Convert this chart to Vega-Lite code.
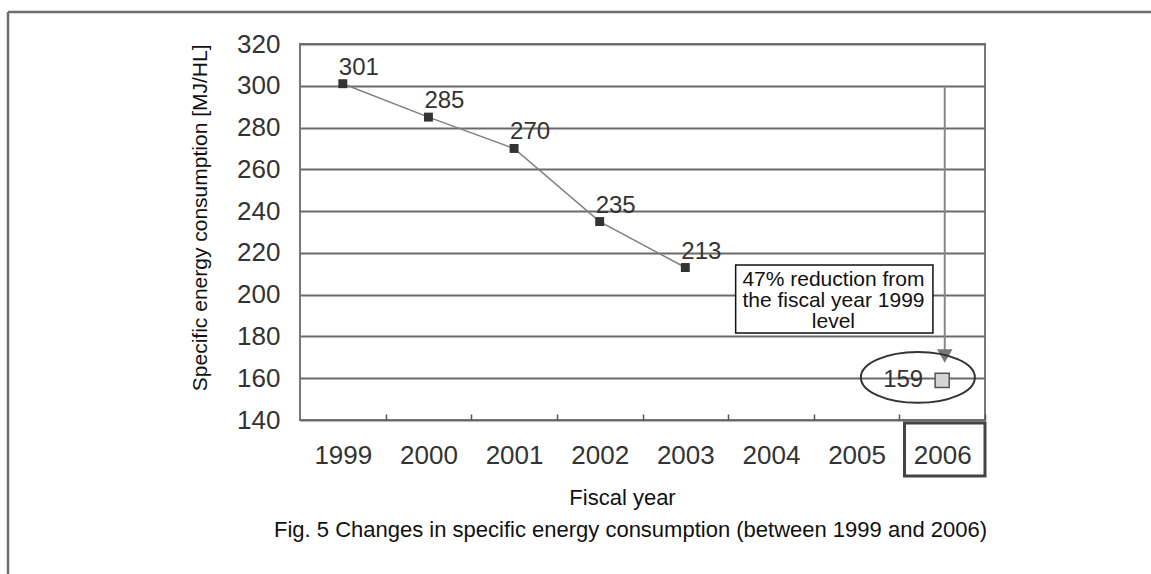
{
  "$schema": "https://vega.github.io/schema/vega-lite/v6.json",
  "width": 685,
  "height": 376,
  "autosize": "none",
  "padding": {"left": 300, "top": 44, "right": 166, "bottom": 154},
  "background": "white",
  "title": {
    "text": "Fig. 5 Changes in specific energy consumption (between 1999 and 2006)",
    "orient": "bottom",
    "anchor": "middle",
    "fontSize": 22,
    "fontWeight": "normal",
    "color": "#111111",
    "font": "Liberation Sans",
    "offset": -55,
    "dx": -12
  },
  "config": {
    "font": "Liberation Sans",
    "view": {"stroke": "#777777", "strokeWidth": 2}
  },
  "data": {
    "values": [
      {"year": 1999, "value": 301, "kind": "actual"},
      {"year": 2000, "value": 285, "kind": "actual"},
      {"year": 2001, "value": 270, "kind": "actual"},
      {"year": 2002, "value": 235, "kind": "actual"},
      {"year": 2003, "value": 213, "kind": "actual"},
      {"year": 2006, "value": 159, "kind": "target"}
    ]
  },
  "layer": [
    {
      "transform": [{"filter": "datum.kind == 'actual'"}],
      "mark": {"type": "line", "color": "#808080", "strokeWidth": 1.5},
      "encoding": {
        "x": {
          "field": "year",
          "type": "quantitative",
          "scale": {"domain": [1998.5, 2006.5], "nice": false, "zero": false},
          "axis": {
            "values": [1999.5, 2000.5, 2001.5, 2002.5, 2003.5, 2004.5, 2005.5, 2006.5],
            "labelExpr": "toString(floor(datum.value))",
            "labelOffset": -42.8,
            "labelFontSize": 26,
            "labelColor": "#333333",
            "labelPadding": 28,
            "labelFlush": false,
            "labelOverlap": false,
            "tickSize": -6,
            "tickColor": "#555555",
            "tickWidth": 1.5,
            "domain": false,
            "grid": false,
            "title": "Fiscal year",
            "titleFontSize": 22,
            "titleFontWeight": "normal",
            "titleColor": "#111111",
            "titlePadding": 19,
            "titleX": 322,
            "titleAlign": "center"
          }
        },
        "y": {
          "field": "value",
          "type": "quantitative",
          "scale": {"domain": [140, 320], "nice": false, "zero": false},
          "axis": {
            "values": [140, 160, 180, 200, 220, 240, 260, 280, 300, 320],
            "labelFontSize": 26,
            "labelColor": "#333333",
            "labelPadding": 20,
            "ticks": false,
            "domain": false,
            "grid": true,
            "gridColor": "#6a6a6a",
            "gridWidth": 2,
            "title": "Specific energy consumption [MJ/HL]",
            "titleFontSize": 21,
            "titleFontWeight": "normal",
            "titleColor": "#111111",
            "titlePadding": 26,
            "titleAnchor": "end"
          }
        }
      }
    },
    {
      "transform": [{"filter": "datum.kind == 'actual'"}],
      "mark": {"type": "point", "shape": "square", "filled": true, "color": "#333333", "size": 80, "opacity": 1},
      "encoding": {
        "x": {"field": "year", "type": "quantitative"},
        "y": {"field": "value", "type": "quantitative"}
      }
    },
    {
      "transform": [{"filter": "datum.kind == 'actual'"}],
      "mark": {"type": "text", "fontSize": 24, "color": "#333333", "dx": 16, "dy": -9, "baseline": "alphabetic", "align": "center"},
      "encoding": {
        "x": {"field": "year", "type": "quantitative"},
        "y": {"field": "value", "type": "quantitative"},
        "text": {"field": "value", "type": "quantitative"}
      }
    },
    {
      "data": {"values": [{}]},
      "mark": {"type": "rule", "color": "#6e6e6e", "strokeWidth": 2.5},
      "encoding": {
        "x": {"datum": 1995.09, "type": "quantitative"},
        "x2": {"datum": 2010},
        "y": {"datum": 335.3, "type": "quantitative"}
      }
    },
    {
      "data": {"values": [{}]},
      "mark": {"type": "rule", "color": "#6e6e6e", "strokeWidth": 2.5},
      "encoding": {
        "x": {"datum": 1995.09, "type": "quantitative"},
        "y": {"datum": 335.3, "type": "quantitative"},
        "y2": {"datum": 66.3}
      }
    },
    {
      "data": {"values": [{}]},
      "mark": {"type": "rule", "color": "#888888", "strokeWidth": 2},
      "encoding": {
        "x": {"datum": 2006.03, "type": "quantitative"},
        "y": {"datum": 300, "type": "quantitative"},
        "y2": {"datum": 172}
      }
    },
    {
      "data": {"values": [{}]},
      "mark": {"type": "point", "shape": "triangle-down", "filled": true, "color": "#777777", "size": 240, "opacity": 1},
      "encoding": {
        "x": {"datum": 2006.03, "type": "quantitative"},
        "y": {"datum": 170.6, "type": "quantitative"}
      }
    },
    {
      "transform": [{"filter": "datum.kind == 'target'"}],
      "mark": {"type": "point", "shape": "square", "filled": true, "fill": "#d4d4d4", "stroke": "#555555", "strokeWidth": 1.5, "size": 200, "opacity": 1},
      "encoding": {
        "x": {"field": "year", "type": "quantitative"},
        "y": {"field": "value", "type": "quantitative"}
      }
    },
    {
      "transform": [{"filter": "datum.kind == 'target'"}],
      "mark": {"type": "text", "fontSize": 24, "color": "#333333", "dx": -19, "align": "right", "baseline": "middle"},
      "encoding": {
        "x": {"field": "year", "type": "quantitative"},
        "y": {"field": "value", "type": "quantitative"},
        "text": {"field": "value", "type": "quantitative"}
      }
    },
    {
      "data": {"values": [{}]},
      "mark": {"type": "point", "shape": "M -1 0 A 1 0.447 0 1 0 1 0 A 1 0.447 0 1 0 -1 0 Z", "filled": false, "stroke": "#333333", "strokeWidth": 2, "size": 12996, "opacity": 1},
      "encoding": {
        "x": {"datum": 2005.716, "type": "quantitative"},
        "y": {"datum": 160.4, "type": "quantitative"}
      }
    },
    {
      "data": {"values": [{}]},
      "mark": {"type": "rect", "fill": "white", "stroke": "#111111", "strokeWidth": 1.5},
      "encoding": {
        "x": {"datum": 2003.588, "type": "quantitative"},
        "x2": {"datum": 2005.892},
        "y": {"datum": 214.25, "type": "quantitative"},
        "y2": {"datum": 181.7}
      }
    },
    {
      "data": {"values": [{}]},
      "mark": {"type": "text", "text": ["47% reduction from", "the fiscal year 1999", "level"], "fontSize": 21, "lineHeight": 21, "color": "#111111", "align": "center", "baseline": "middle"},
      "encoding": {
        "x": {"datum": 2004.73, "type": "quantitative"},
        "y": {"datum": 207.0, "type": "quantitative"}
      }
    },
    {
      "data": {"values": [{}]},
      "mark": {"type": "rect", "filled": false, "fill": null, "stroke": "#444444", "strokeWidth": 3},
      "encoding": {
        "x": {"datum": 2005.56, "type": "quantitative"},
        "x2": {"datum": 2006.5},
        "y": {"datum": 138.6, "type": "quantitative"},
        "y2": {"datum": 113.2}
      }
    }
  ]
}
